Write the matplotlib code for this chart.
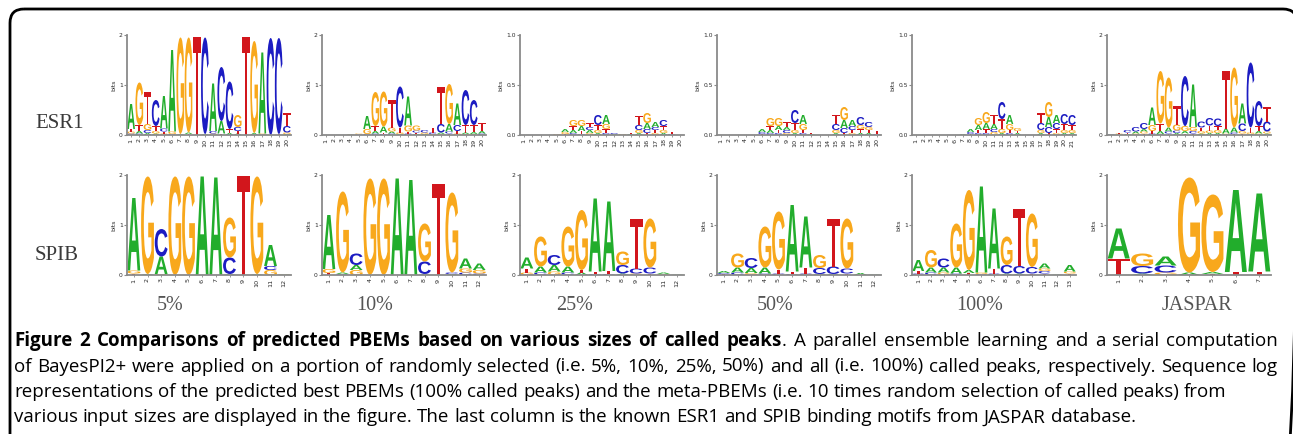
import matplotlib
matplotlib.use("Agg")
import matplotlib.pyplot as plt
from matplotlib.font_manager import FontProperties
from matplotlib.patches import FancyBboxPatch, PathPatch
from matplotlib.textpath import TextPath
from matplotlib.transforms import Affine2D


# -----------------------------------------------------------------------------
# Logo data: one list per panel, each column stacked bottom -> top as (base, bits)
# -----------------------------------------------------------------------------

esr1_5 = [
    [("C", .03), ("G", .04), ("T", .05), ("A", .50)],
    [("C", .03), ("A", .05), ("T", .12), ("G", .85)],
    [("A", .04), ("C", .06), ("G", .12), ("T", .65)],
    [("A", .03), ("G", .05), ("T", .10), ("C", .52)],
    [("G", .03), ("T", .04), ("C", .06), ("A", .65)],
    [("C", .02), ("G", .05), ("A", 1.63)],
    [("A", .02), ("G", 1.93)],
    [("T", .02), ("A", .03), ("G", 1.90)],
    [("T", 1.96)],
    [("A", .02), ("C", 1.93)],
    [("G", .03), ("C", .05), ("A", .95)],
    [("T", .03), ("A", .25), ("C", 1.08)],
    [("A", .04), ("T", .08), ("C", .95)],
    [("A", .03), ("T", .05), ("C", .08), ("G", .24)],
    [("T", 1.96)],
    [("A", .04), ("G", 1.84)],
    [("G", .03), ("A", 1.62)],
    [("C", 1.94)],
    [("T", .02), ("C", 1.92)],
    [("A", .02), ("G", .03), ("C", .13), ("T", .27)],
]

esr1_10 = [
    [], [], [],
    [("A", .01), ("G", .01)],
    [("C", .01), ("G", .02)],
    [("C", .02), ("G", .10), ("A", .26)],
    [("C", .03), ("A", .05), ("T", .10), ("G", .68)],
    [("C", .02), ("T", .03), ("A", .12), ("G", .70)],
    [("C", .03), ("A", .04), ("G", .08), ("T", .55)],
    [("A", .02), ("G", .03), ("T", .10), ("C", .82)],
    [("C", .03), ("T", .04), ("G", .12), ("A", .58)],
    [("A", .02), ("T", .03), ("C", .04), ("G", .10)],
    [("A", .02), ("G", .03), ("C", .05)],
    [("G", .02), ("C", .03), ("T", .10)],
    [("G", .02), ("A", .03), ("C", .17), ("T", .75)],
    [("T", .03), ("C", .04), ("A", .15), ("G", .80)],
    [("G", .03), ("T", .05), ("C", .12), ("A", .43)],
    [("G", .02), ("A", .03), ("T", .15), ("C", .70)],
    [("G", .02), ("A", .04), ("T", .14), ("C", .50)],
    [("C", .03), ("A", .05), ("T", .17)],
]

esr1_25 = [
    [], [], [], [],
    [("G", .01)],
    [("T", .01), ("G", .02), ("A", .03)],
    [("C", .02), ("A", .03), ("T", .04), ("G", .06)],
    [("C", .01), ("T", .03), ("A", .05), ("G", .06)],
    [("G", .02), ("A", .03), ("C", .03), ("T", .04)],
    [("A", .02), ("G", .03), ("T", .05), ("C", .10)],
    [("C", .02), ("T", .04), ("G", .05), ("A", .09)],
    [("A", .01), ("C", .01)],
    [("G", .01)],
    [("A", .01), ("T", .01)],
    [("A", .02), ("G", .03), ("C", .05), ("T", .09)],
    [("T", .02), ("C", .04), ("A", .06), ("G", .10)],
    [("G", .02), ("T", .03), ("C", .03), ("A", .05)],
    [("A", .02), ("G", .03), ("T", .04), ("C", .06)],
    [("C", .01), ("T", .02)],
    [],
]

esr1_50 = [
    [], [], [], [], [],
    [("T", .01), ("C", .02), ("A", .03)],
    [("C", .02), ("A", .03), ("T", .04), ("G", .08)],
    [("C", .02), ("T", .03), ("A", .04), ("G", .08)],
    [("G", .02), ("C", .03), ("A", .03), ("T", .05)],
    [("A", .02), ("G", .03), ("T", .07), ("C", .13)],
    [("C", .02), ("T", .03), ("G", .06), ("A", .09)],
    [("A", .01), ("T", .01)],
    [], [],
    [("A", .02), ("G", .03), ("C", .06), ("T", .09)],
    [("T", .02), ("C", .05), ("A", .08), ("G", .13)],
    [("G", .02), ("T", .03), ("C", .04), ("A", .06)],
    [("A", .02), ("T", .04), ("G", .04), ("C", .08)],
    [("A", .02), ("T", .03), ("G", .03), ("C", .05)],
    [("C", .01), ("T", .03)],
]

esr1_100 = [
    [], [], [], [], [], [],
    [("A", .01)],
    [("T", .01), ("C", .02), ("A", .03)],
    [("C", .02), ("T", .03), ("A", .05), ("G", .07)],
    [("C", .02), ("T", .04), ("A", .06), ("G", .11)],
    [("G", .03), ("C", .03), ("A", .05), ("T", .09)],
    [("A", .02), ("G", .04), ("T", .10), ("C", .17)],
    [("C", .02), ("T", .03), ("G", .06), ("A", .09)],
    [("A", .02), ("T", .02), ("G", .03)],
    [], [],
    [("A", .02), ("G", .03), ("C", .07), ("T", .10)],
    [("T", .02), ("C", .06), ("A", .10), ("G", .15)],
    [("G", .02), ("T", .04), ("C", .06), ("A", .08)],
    [("A", .02), ("G", .03), ("T", .06), ("C", .10)],
    [("A", .02), ("G", .03), ("T", .05), ("C", .10)],
]

esr1_jaspar = [
    [("A", .01), ("C", .01)],
    [("A", .01), ("G", .02), ("T", .02)],
    [("A", .02), ("T", .03), ("C", .05)],
    [("G", .03), ("A", .04), ("C", .09)],
    [("T", .03), ("G", .04), ("A", .05), ("C", .12)],
    [("C", .03), ("T", .05), ("G", .12), ("A", .35)],
    [("C", .02), ("A", .06), ("T", .15), ("G", 1.05)],
    [("T", .03), ("C", .04), ("A", .08), ("G", 1.00)],
    [("A", .04), ("C", .05), ("G", .12), ("T", .37)],
    [("T", .03), ("A", .05), ("G", .10), ("C", 1.00)],
    [("T", .03), ("C", .05), ("G", .08), ("A", .85)],
    [("A", .03), ("G", .05), ("T", .07), ("C", .12)],
    [("A", .04), ("G", .05), ("T", .10), ("C", .15)],
    [("A", .04), ("G", .06), ("T", .08), ("C", .15)],
    [("C", .01), ("G", .02), ("A", .10), ("T", 1.15)],
    [("T", .02), ("C", .03), ("A", .10), ("G", 1.20)],
    [("T", .03), ("G", .05), ("C", .15), ("A", .40)],
    [("A", .02), ("G", .03), ("T", .10), ("C", 1.30)],
    [("G", .03), ("A", .05), ("T", .10), ("C", .50)],
    [("A", .03), ("G", .04), ("C", .20), ("T", .30)],
]

spib_5 = [
    [("T", .03), ("G", .06), ("A", 1.45)],
    [("A", .02), ("G", 1.95)],
    [("G", .02), ("A", .35), ("C", .55)],
    [("G", 1.97)],
    [("G", 1.97)],
    [("A", 1.97)],
    [("A", 1.95)],
    [("A", .02), ("C", .33), ("G", .80)],
    [("T", 1.98)],
    [("A", .02), ("G", 1.95)],
    [("G", .10), ("C", .08), ("A", .42)],
    [("A", .01), ("G", .01)],
]

spib_10 = [
    [("T", .04), ("G", .08), ("A", 1.08)],
    [("C", .02), ("A", .03), ("G", 1.62)],
    [("G", .10), ("A", .10), ("C", .23)],
    [("G", 1.93)],
    [("G", 1.93)],
    [("A", 1.93)],
    [("A", 1.90)],
    [("A", .02), ("C", .25), ("G", .76)],
    [("T", 1.83)],
    [("A", .02), ("C", .03), ("G", 1.60)],
    [("C", .05), ("G", .08), ("A", .20)],
    [("C", .03), ("G", .07), ("A", .13)],
]

spib_25 = [
    [("G", .05), ("T", .08), ("A", .22)],
    [("C", .05), ("A", .12), ("G", .60)],
    [("G", .07), ("A", .13), ("C", .20)],
    [("C", .05), ("A", .12), ("G", .80)],
    [("A", .05), ("T", .05), ("G", 1.20)],
    [("C", .02), ("T", .05), ("A", 1.46)],
    [("C", .02), ("T", .06), ("A", 1.39)],
    [("A", .03), ("C", .17), ("G", .27)],
    [("G", .03), ("C", .10), ("T", 1.00)],
    [("T", .03), ("C", .12), ("G", .98)],
    [("G", .02), ("A", .03)],
    [("A", .01)],
]

spib_50 = [
    [("T", .02), ("C", .02), ("A", .04)],
    [("C", .05), ("A", .10), ("G", .28)],
    [("G", .04), ("A", .10), ("C", .20)],
    [("C", .03), ("A", .12), ("G", .82)],
    [("C", .03), ("T", .08), ("G", 1.16)],
    [("C", .02), ("T", .05), ("A", 1.33)],
    [("C", .03), ("T", .12), ("A", 1.02)],
    [("A", .02), ("C", .12), ("G", .26)],
    [("A", .02), ("C", .15), ("T", .96)],
    [("T", .03), ("C", .10), ("G", 1.00)],
    [("A", .04)],
    [("A", .01)],
]

spib_100 = [
    [("C", .03), ("T", .05), ("A", .22)],
    [("C", .05), ("A", .10), ("G", .35)],
    [("G", .05), ("A", .10), ("C", .18)],
    [("C", .03), ("A", .12), ("G", .88)],
    [("T", .04), ("A", .06), ("G", 1.60)],
    [("C", .02), ("G", .03), ("A", 1.72)],
    [("C", .03), ("T", .10), ("A", 1.20)],
    [("A", .03), ("C", .17), ("G", .57)],
    [("A", .03), ("C", .15), ("T", 1.15)],
    [("T", .03), ("C", .13), ("G", 1.07)],
    [("T", .03), ("C", .05), ("G", .05), ("A", .10)],
    [("A", .01)],
    [("T", .03), ("G", .04), ("A", .13)],
]

spib_jaspar = [
    [("T", .33), ("A", .60)],
    [("A", .03), ("C", .15), ("G", .25)],
    [("G", .05), ("C", .14), ("A", .18)],
    [("A", .05), ("G", 1.90)],
    [("T", .02), ("A", .04), ("G", 1.55)],
    [("T", .06), ("A", 1.64)],
    [("T", .07), ("A", 1.56)],
]

row_names = ["ESR1", "SPIB"]
column_labels = ["5%", "10%", "25%", "50%", "100%", "JASPAR"]
esr1_logos = [esr1_5, esr1_10, esr1_25, esr1_50, esr1_100, esr1_jaspar]
spib_logos = [spib_5, spib_10, spib_25, spib_50, spib_100, spib_jaspar]
esr1_ymax = [2, 2, 1.0, 1.0, 1.0, 2]
spib_ymax = [2, 2, 2, 2, 2, 2]

caption_bold = "Figure 2 Comparisons of predicted PBEMs based on various sizes of called peaks"
caption_lines = [
    ". A parallel ensemble learning and a serial computation",
    "of BayesPI2+ were applied on a portion of randomly selected (i.e. 5%, 10%, 25%, 50%) "
    "and all (i.e. 100%) called peaks, respectively. Sequence log",
    "representations of the predicted best PBEMs (100% called peaks) and the meta-PBEMs "
    "(i.e. 10 times random selection of called peaks) from",
    "various input sizes are displayed in the figure. The last column is the known ESR1 "
    "and SPIB binding motifs from JASPAR database.",
]

BASE_COLORS = {"A": "#22ad2c", "C": "#1c1cc2", "G": "#f8a81c", "T": "#d2161c"}
LETTER_FONT = FontProperties(family="Liberation Sans", weight="bold")
_glyphs = {}


# -----------------------------------------------------------------------------
# Helpers
# -----------------------------------------------------------------------------

W, H = 1293, 434
fig = plt.figure(figsize=(W / 100, H / 100), dpi=100)

# Full-figure axes in pixel units for the frame, row/column labels and caption.
bg = fig.add_axes([0, 0, 1, 1])
bg.set_xlim(0, W)
bg.set_ylim(H, 0)
bg.axis("off")


def panel_axes(left, top, width, height):
    return fig.add_axes([left / W, 1 - (top + height) / H, width / W, height / H])


def draw_letter(ax, letter, x, y, w, h):
    """Stretch one bold glyph to fill the box (x, y, w, h) in data units."""
    if letter not in _glyphs:
        _glyphs[letter] = TextPath((0, 0), letter, size=1, prop=LETTER_FONT)
    path = _glyphs[letter]
    ext = path.get_extents()
    tr = (Affine2D().translate(-ext.x0, -ext.y0)
          .scale(w / ext.width, h / ext.height).translate(x, y))
    ax.add_patch(PathPatch(tr.transform_path(path), facecolor=BASE_COLORS[letter],
                           edgecolor="none", lw=0))


def draw_logo(ax, columns, ymax):
    n = len(columns)
    for pos, stack in enumerate(columns, start=1):
        base = 0.0
        for letter, bits in stack:
            draw_letter(ax, letter, pos - 0.47, base, 0.94, bits)
            base += bits
    ax.set_xlim(0.5, n + 0.5)
    ax.set_ylim(0, ymax)
    ax.patch.set_alpha(0)
    for side in ("top", "right"):
        ax.spines[side].set_visible(False)
    for side in ("left", "bottom"):
        ax.spines[side].set_color("#8a8a8a")
        ax.spines[side].set_linewidth(1.3)
    if ymax == 2:
        ax.set_yticks([0, 1, 2], ["0", "1", "2"])
    else:
        ax.set_yticks([0, 0.5, 1.0], ["0.0", "0.5", "1.0"])
    ax.set_xticks(range(1, n + 1), [str(i) for i in range(1, n + 1)], rotation=90)
    ax.tick_params(axis="y", length=2, width=0.8, color="#8a8a8a", pad=1,
                   labelsize=4.3, labelcolor="#2a2a2a")
    ax.tick_params(axis="x", length=1.5, width=0.6, color="#8a8a8a", pad=1,
                   labelsize=4.6, labelcolor="#2a2a2a")
    ax.set_ylabel("bits", fontsize=4.5, color="#2a2a2a", labelpad=2)


# -----------------------------------------------------------------------------
# Logo panels
# -----------------------------------------------------------------------------

panel_left = [127, 322, 520, 717, 912, 1107]
row_tops = [35, 175]
for row_top, logos, ymaxes in zip(row_tops, [esr1_logos, spib_logos], [esr1_ymax, spib_ymax]):
    for left, logo, ymax in zip(panel_left, logos, ymaxes):
        ax = panel_axes(left, row_top, 164, 100)
        draw_logo(ax, logo, ymax)

# Row and column labels (serif, like the original figure).
for name, y in zip(row_names, [123, 255]):
    bg.text(35, y, name, family="Liberation Serif", fontsize=15, color="#3a3a3a",
            ha="left", va="center")
label_x = [170, 375, 575, 775, 980, 1197]
for label, x in zip(column_labels, label_x):
    bg.text(x, 306, label, family="Liberation Serif", fontsize=14.5, color="#555555",
            ha="center", va="center")

# Frame with rounded corners, open past the bottom and right image edges.
bg.add_patch(FancyBboxPatch((10, 9), 1287, 470, boxstyle="round,pad=0,rounding_size=14",
                            facecolor="none", edgecolor="black", lw=2, clip_on=False))


# -----------------------------------------------------------------------------
# Caption (first two lines justified word by word)
# -----------------------------------------------------------------------------

cap_family = "Open Sans"
renderer = fig.canvas.get_renderer()
text_left, text_right = 14, 1278
baselines = [346, 371.5, 397, 422.5]


def text_width(s, size, bold=False):
    t = bg.text(0, 0, s, family=cap_family, fontsize=size,
                fontweight="bold" if bold else "normal")
    w = t.get_window_extent(renderer).width
    t.remove()
    return w


# Scale the caption font so the third (ragged) line ends where it does in the figure.
cap_size = 10 * 1210 / text_width(caption_lines[2], 10)
space_w = text_width("x x", cap_size) - text_width("xx", cap_size)

line_tokens = [
    [(w, True, i > 0) for i, w in enumerate(caption_bold.split())]
    + [(".", False, False)]
    + [(w, False, True) for w in caption_lines[0][2:].split()],
    [(w, False, i > 0) for i, w in enumerate(caption_lines[1].split())],
    [(w, False, i > 0) for i, w in enumerate(caption_lines[2].split())],
    [(w, False, i > 0) for i, w in enumerate(caption_lines[3].split())],
]

for k, (tokens, y) in enumerate(zip(line_tokens, baselines)):
    widths = [text_width(w, cap_size, b) for w, b, _ in tokens]
    n_gaps = sum(1 for _, _, g in tokens if g)
    gap = (text_right - text_left - sum(widths)) / n_gaps if k < 2 else space_w
    x = text_left
    for (word, bold, spaced), w in zip(tokens, widths):
        if spaced:
            x += gap
        bg.text(x, y, word, family=cap_family, fontsize=cap_size,
                fontweight="bold" if bold else "normal", color="black",
                ha="left", va="baseline")
        x += w

fig.savefig("out.png", dpi=100)
